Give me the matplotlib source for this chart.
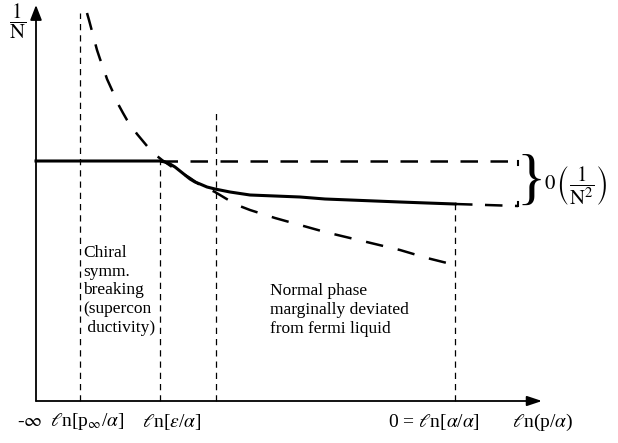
import matplotlib
matplotlib.use("Agg")
import matplotlib.pyplot as plt

plt.rcParams['font.family'] = ['Liberation Serif', 'DejaVu Serif']
plt.rcParams['mathtext.fontset'] = 'stix'

# ---- data (schematic units: x along ln(p/alpha), y along 1/N) ----
dashed_curve_x = [51, 53, 57, 61, 64, 67, 71, 76, 81, 87, 91, 96, 101, 106, 111, 117, 121, 126,
                  139, 154, 164, 179, 189, 201, 214, 239, 264, 289, 314, 339, 364, 391, 419]
dashed_curve_y = [388, 381, 366, 351, 342, 334, 322, 311, 299, 288, 281, 274, 267, 261, 255, 249, 245, 241,
                  232, 223, 216, 209, 203, 196, 191, 183, 176, 169, 163, 157, 151, 143, 136]

solid_curve_x = [0, 124, 129, 134, 139, 144, 149, 154, 159, 164, 171, 179, 194, 214, 239, 264, 289, 314, 339, 364, 391, 419]
solid_curve_y = [240, 240, 239, 237, 234, 230, 226, 222, 219, 217, 214, 212, 209, 206, 205, 204, 202, 201, 200, 199, 198, 197]

upper_dash_x = [124, 482]
upper_dash_y = [240, 240]
lower_dash_x = [419, 482]
lower_dash_y = [197, 195]

vline_x = [44, 124, 180, 419]
vline_top = [388, 240, 288, 197]

tick_labels = [r"-$\infty$", r"$\ell$n[p$_{\infty}$/$\alpha$]", r"$\ell$n[$\varepsilon$/$\alpha$]",
               r"0 = $\ell$n[$\alpha$/$\alpha$]", r"$\ell$n(p/$\alpha$)"]
tick_pos = [-6, 51, 136, 398, 507]

region1_text = "Chiral\nsymm.\nbreaking\n(supercon\n ductivity)"
region2_text = "Normal phase\nmarginally deviated\nfrom fermi liquid"

# ---- figure ----
fig = plt.figure(figsize=(6.18, 4.43), dpi=100)
ax = fig.add_axes([0, 0, 1, 1])
ax.set_xlim(-36, 582)
ax.set_ylim(-42, 401)
ax.axis('off')

# axes arrows
ax.annotate('', xy=(0, 396), xytext=(0, 0),
            arrowprops=dict(arrowstyle='-|>,head_length=0.9,head_width=0.35', lw=1.3, color='black',
                            shrinkA=0, shrinkB=0))
ax.annotate('', xy=(506, 0), xytext=(0, 0),
            arrowprops=dict(arrowstyle='-|>,head_length=0.9,head_width=0.3', lw=1.3, color='black',
                            shrinkA=0, shrinkB=0))

# vertical dashed lines
for xv, yt in zip(vline_x, vline_top):
    ax.plot([xv, xv], [0, yt], color='black', lw=0.9, dashes=(5, 4))

# curves
ax.plot(dashed_curve_x, dashed_curve_y, color='black', lw=1.8, dashes=(7, 6))
ax.plot(upper_dash_x, upper_dash_y, color='black', lw=1.8, dashes=(7, 5))
ax.plot(lower_dash_x, lower_dash_y, color='black', lw=1.8, dashes=(7, 5))
ax.plot(solid_curve_x, solid_curve_y, color='black', lw=2.2, solid_joinstyle='round')

# small end ticks of bracket
ax.plot([482, 482], [240, 236], color='black', lw=1.5)
ax.plot([482, 482], [195, 199], color='black', lw=1.5)

# brace and O(1/N^2)
ax.text(495, 218, "}", fontsize=44, ha='center', va='center', family='Liberation Serif',
        fontweight='light')
ax.text(508, 216, r"$0\,\left(\dfrac{1}{\mathrm{N}^{2}}\right)$", fontsize=15, ha='left', va='center')

# y label
ax.text(-18, 380, r"$\dfrac{1}{\mathrm{N}}$", fontsize=15, ha='center', va='center')

# tick labels
for lab, xp in zip(tick_labels, tick_pos):
    ax.text(xp, -21, lab, fontsize=14, ha='center', va='center')

# region texts
ax.text(47, 156, region1_text, fontsize=12.5, ha='left', va='top', linespacing=1.22)
ax.text(234, 91, region2_text, fontsize=12.5, ha='left', va='center', linespacing=1.22)

fig.savefig('out.png', dpi=100)
